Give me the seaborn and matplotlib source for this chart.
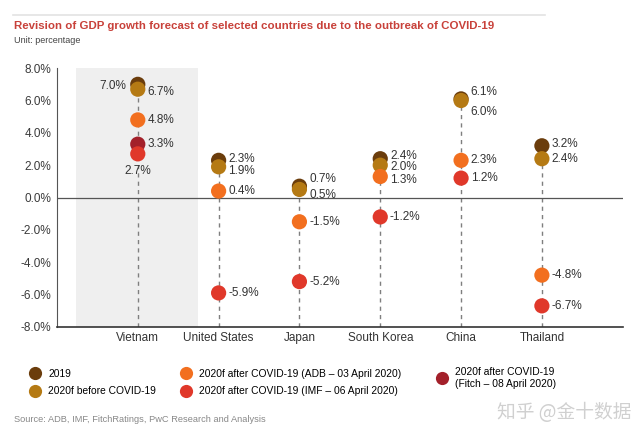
import numpy as np
import pandas as pd
import matplotlib
matplotlib.use('Agg')
import matplotlib.pyplot as plt
from matplotlib.lines import Line2D
import seaborn as sns

# data
countries = ['Vietnam', 'United States', 'Japan', 'South Korea', 'China', 'Thailand']
series = ['2019', '2020f before COVID-19', 'ADB', 'Fitch', 'IMF']
v2019 = [7.0, 2.3, 0.7, 2.4, 6.1, 3.2]
v_before = [6.7, 1.9, 0.5, 2.0, 6.0, 2.4]
v_adb = [4.8, 0.4, -1.5, 1.3, 2.3, -4.8]
v_fitch = [3.3, np.nan, np.nan, np.nan, np.nan, np.nan]
v_imf = [2.7, -5.9, -5.2, -1.2, 1.2, -6.7]
legend_labels = {
    '2019': '2019',
    '2020f before COVID-19': '2020f before COVID-19',
    'ADB': '2020f after COVID-19 (ADB \u2013 03 April 2020)',
    'IMF': '2020f after COVID-19 (IMF \u2013 06 April 2020)',
    'Fitch': '2020f after COVID-19\n(Fitch \u2013 08 April 2020)',
}
yticks = [-8, -6, -4, -2, 0, 2, 4, 6, 8]

palette = {'2019': '#6b3d0c', '2020f before COVID-19': '#b57a14',
           'ADB': '#f26f1f', 'Fitch': '#a3202a', 'IMF': '#e0382a'}

df = pd.DataFrame({'country': countries * 5,
                   'series': np.repeat(series, len(countries)),
                   'value': v2019 + v_before + v_adb + v_fitch + v_imf}).dropna()

# label offsets in points (dx, dy, ha)
offs = {('Vietnam', '2019'): (-8, -1, 'right'),
        ('Vietnam', '2020f before COVID-19'): (7, -2, 'left'),
        ('Vietnam', 'IMF'): (0, -12, 'center'),
        ('United States', '2019'): (7, 1, 'left'),
        ('United States', '2020f before COVID-19'): (7, -3, 'left'),
        ('Japan', '2019'): (7, 5, 'left'),
        ('Japan', '2020f before COVID-19'): (7, -4, 'left'),
        ('South Korea', '2019'): (7, 2, 'left'),
        ('South Korea', '2020f before COVID-19'): (7, -1, 'left'),
        ('South Korea', 'ADB'): (7, -2.5, 'left'),
        ('China', '2019'): (7, 5, 'left'),
        ('China', '2020f before COVID-19'): (7, -8, 'left'),
        ('Thailand', '2019'): (7, 1, 'left')}

plt.rcParams['font.family'] = ['Liberation Sans', 'DejaVu Sans']
fig = plt.figure(figsize=(6.4, 4.37), dpi=100)
ax = fig.add_axes([0.089, 0.252, 0.884, 0.592])

ax.axvspan(-0.77, 0.75, color='#efefef', zorder=0, lw=0)
pos = np.arange(len(countries))
tops = df.groupby('country')['value'].max().reindex(countries)
ax.vlines(pos, -8, tops.values, colors='#7f7f7f', linestyles=(0, (3, 3)), lw=1, zorder=1)
ax.axhline(0, color='#555555', lw=0.9, zorder=1)

sns.scatterplot(data=df, x='country', y='value', hue='series', palette=palette,
                hue_order=series, s=120, edgecolor='none', legend=False, ax=ax, zorder=3)

for _, r in df.iterrows():
    dx, dy, ha = offs.get((r.country, r.series), (7, 0, 'left'))
    ax.annotate(f'{r.value:.1f}%', (countries.index(r.country), r.value),
                xytext=(dx, dy), textcoords='offset points', ha=ha, va='center',
                fontsize=8.5, color='#333333', zorder=4)

ax.set_xlim(-1, 6)
ax.set_ylim(-8, 8)
ax.set_yticks(yticks)
ax.set_yticklabels([f'{t:.1f}%' for t in yticks], fontsize=8.5, color='#3a3a3a')
ax.set_xticks(pos)
ax.set_xticklabels(countries, fontsize=8.5, color='#333333')
ax.tick_params(length=0, pad=4)
ax.set_xlabel('')
ax.set_ylabel('')
for s in ['top', 'right']:
    ax.spines[s].set_visible(False)
ax.spines['left'].set_color('#555555')
ax.spines['bottom'].set_color('#333333')
ax.spines['bottom'].set_linewidth(1.2)

# legend: three separate columns like the reference
cols = [(['2019', '2020f before COVID-19'], 0.045, 0.125),
        (['ADB', 'IMF'], 0.281, 0.125),
        (['Fitch'], 0.681, 0.135)]
for keys, lx, ly in cols:
    hs = [Line2D([], [], marker='o', ls='none', ms=9.5, mec='none', color=palette[k]) for k in keys]
    fig.legend(hs, [legend_labels[k] for k in keys], loc='center left',
               bbox_to_anchor=(lx, ly), frameon=False, fontsize=7.4, handletextpad=0.7,
               labelspacing=0.75, handlelength=1.2, borderpad=0, borderaxespad=0)

fig.add_artist(Line2D([0.02, 0.852], [0.966, 0.966], color='#e3e3e3', lw=1.2))
fig.text(0.022, 0.94, 'Revision of GDP growth forecast of selected countries due to the outbreak of COVID-19',
         fontsize=8.25, fontweight='bold', color='#c8413a', va='center')
fig.text(0.022, 0.907, 'Unit: percentage', fontsize=6.5, color='#444444', va='center')
fig.text(0.022, 0.04, 'Source: ADB, IMF, FitchRatings, PwC Research and Analysis',
         fontsize=6.7, color='#888888', va='center')
fig.text(0.776, 0.055, '\u77e5\u4e4e @\u91d1\u5341\u6570\u636e', fontsize=13.5, color='#d0d0d0',
         va='center', family=['Noto Sans CJK SC', 'DejaVu Sans'])

plt.savefig('out.png', dpi=100)
